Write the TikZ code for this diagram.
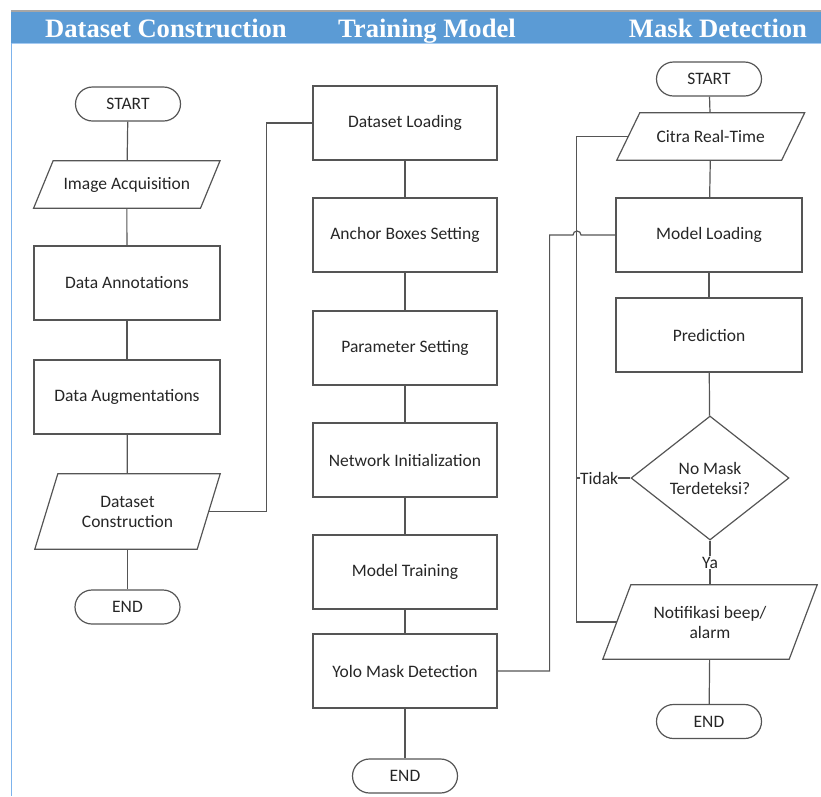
\documentclass[tikz,border=0pt]{standalone}
\usepackage{fontspec}
\setmainfont{Carlito}
\newfontfamily\hdrfont{Liberation Serif}
\usetikzlibrary{shapes.geometric}
\definecolor{hdrblue}{HTML}{5B9BD5}
\definecolor{edgeblue}{HTML}{7DB3EC}
\definecolor{lnc}{HTML}{555555}
\definecolor{txc}{HTML}{262626}
\newcommand\parashape[2]{\draw[shapeline] ([xshift=#2*0.5pt]#1.north west) -- ([xshift=#2*0.5pt]#1.north east) -- ([xshift=-#2*0.5pt]#1.south east) -- ([xshift=-#2*0.5pt]#1.south west) -- cycle;}
\begin{document}
\begin{tikzpicture}[x=1pt,y=-1pt,
  every node/.style={font=\fontsize{17.5}{20}\selectfont, text=txc},
  shapeline/.style={draw=lnc, line width=1.2pt},
  proc/.style={shapeline, rectangle, minimum width=186, minimum height=74, inner sep=0pt, align=center},
  term/.style={shapeline, rectangle, rounded corners=17pt, minimum width=105, minimum height=34, inner sep=0pt},
  iobox/.style={rectangle, inner sep=0pt, align=center},
  decide/.style={shapeline, diamond, minimum width=158, minimum height=124, inner sep=0pt, align=center},
  conn/.style={draw=lnc, line width=1.2pt},
  hdr/.style={font=\hdrfont\bfseries\fontsize{26.6}{30}\selectfont, text=white, anchor=base, inner sep=0pt}]
\useasboundingbox (0,0) rectangle (821,796);
% header
\fill[hdrblue] (11,11.5) rectangle (821,43);
\draw[gray!70, line width=1.3pt] (11,11) -- (821,11);
\draw[edgeblue!70!white, line width=1pt] (11,43) -- (821,43);
\draw[edgeblue, line width=1.5pt] (11.5,43) -- (11.5,796);
\node[hdr] (h1) at (166,37) {Dataset Construction};
\node[hdr] (h2) at (427,37) {Training Model};
\node[hdr] (h3) at (718,37) {Mask Detection};
% column 1
\node[term] (s1) at (128,104) {START};
\node[iobox, minimum width=166.5, minimum height=47] (ia) at (126.8,184.5) {Image Acquisition};
\parashape{ia}{19.5}
\node[proc] (da) at (127,283) {Data Annotations};
\node[proc] (dg) at (127,397) {Data Augmentations};
\node[iobox, minimum width=162, minimum height=75] (dc) at (127.5,511.5) {Dataset\\Construction};
\parashape{dc}{23}
\node[term] (e1) at (127.5,607) {END};
\draw[conn] (s1) -- (ia);
\draw[conn] (ia) -- (da);
\draw[conn] (da) -- (dg);
\draw[conn] (dg) -- (dc);
\draw[conn] (dc) -- (e1);
% column 2
\node[proc, minimum width=184] (dl) at (405,123) {Dataset Loading};
\node[proc, minimum width=184] (ab) at (405,235) {Anchor Boxes Setting};
\node[proc, minimum width=184] (ps) at (405,348) {Parameter Setting};
\node[proc, minimum width=184] (ni) at (405,460) {Network Initialization};
\node[proc, minimum width=184] (mt) at (405,572) {Model Training};
\node[proc, minimum width=184] (ym) at (405,671) {Yolo Mask Detection};
\node[term] (e2) at (405,776) {END};
\draw[conn] (dl) -- (ab);
\draw[conn] (ab) -- (ps);
\draw[conn] (ps) -- (ni);
\draw[conn] (ni) -- (mt);
\draw[conn] (mt) -- (ym);
\draw[conn] (ym) -- (e2);
\draw[conn] (dc.east) -- ([xshift=57.5pt]dc.east) |- (dl.west);
% column 3
\node[term] (s3) at (709,79) {START};
\node[iobox, minimum width=164.5, minimum height=47] (cr) at (710.7,136.5) {Citra Real-Time};
\parashape{cr}{23}
\node[proc] (ml) at (709,235) {Model Loading};
\node[proc] (pr) at (709,335) {Prediction};
\node[decide] (dm) at (710,478) {No Mask\\Terdeteksi?};
\node[iobox, minimum width=186, minimum height=74] (nf) at (710,622) {Notifikasi beep/\\alarm};
\parashape{nf}{28}
\node[term] (e3) at (709,721.5) {END};
\draw[conn] (s3) -- (cr);
\draw[conn] (cr) -- (ml);
\draw[conn] (ml) -- (pr);
\draw[conn] (pr) -- (dm);
\draw[conn] (dm) -- (nf) node[midway, fill=white, inner sep=1pt] (ya) {Ya};
\draw[conn] (nf) -- (e3);
\draw[conn] (nf.west) -- ([xshift=-40pt]nf.west) |- (cr.west);
\draw[conn] (dm.west) -- ([xshift=-54pt]dm.west) node[pos=0.58, fill=white, inner sep=0pt] (td) {Tidak};
\coordinate (hopL) at (573,235);
\draw[conn] (ym.east) -- ([xshift=52pt]ym.east) |- (hopL) arc (180:360:4) -- (ml.west);
\end{tikzpicture}
\end{document}
